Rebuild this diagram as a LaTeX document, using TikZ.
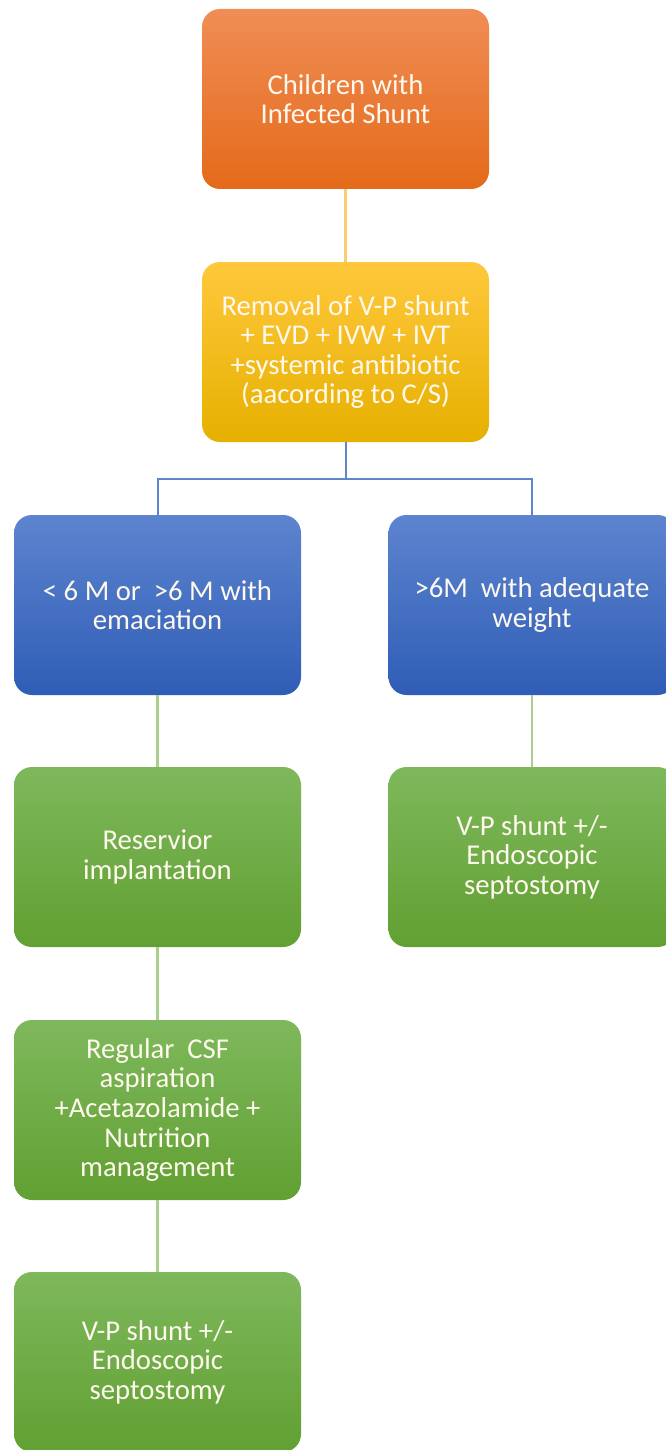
\documentclass[tikz,border=0pt]{standalone}
\usepackage{fontspec}
\setmainfont{Carlito}
\definecolor{orT}{HTML}{F08D55}
\definecolor{orB}{HTML}{E46A1A}
\definecolor{yeT}{HTML}{FFC83C}
\definecolor{yeM}{HTML}{FFC000}
\definecolor{yeB}{HTML}{E6B000}
\definecolor{blT}{HTML}{5D84CF}
\definecolor{blB}{HTML}{2F5DB6}
\definecolor{grT}{HTML}{7EB85C}
\definecolor{grB}{HTML}{61A032}
\definecolor{lnOr}{HTML}{F9CD70}
\definecolor{lnBl}{HTML}{5F86C8}
\definecolor{lnGr}{HTML}{A8CF8C}
\definecolor{txt}{HTML}{FFF8EE}
\tikzset{
  box/.style={rounded corners=18pt, minimum width=287pt, minimum height=180pt,
    align=center, text=txt, inner sep=0pt,
    font=\fontsize{28.7}{29.6}\selectfont},
  orbox/.style={box, top color=orT, bottom color=orB},
  yebox/.style={box, top color=yeT, middle color=yeM, bottom color=yeB},
  blbox/.style={box, top color=blT, bottom color=blB},
  grbox/.style={box, top color=grT, bottom color=grB},
  lnor/.style={draw=lnOr, line width=2.4pt},
  lnbl/.style={draw=lnBl, line width=2pt},
  lngr/.style={draw=lnGr, line width=2.6pt}
}
\begin{document}
\begin{tikzpicture}[x=1pt,y=-1pt]
\useasboundingbox (0,0) rectangle (666,1450);
\clip (0,0) rectangle (666,1450);
\fill[white] (0,0) rectangle (666,1450);
\node[orbox] (a) at (345.5,99) {Children with\\Infected Shunt};
\node[yebox] (b) at (345.5,352) {Removal of V-P shunt\\+ EVD + IVW + IVT\\+systemic antibiotic\\(aacording to C/S)};
\node[blbox] (c) at (157.5,605) {< 6 M or\ \ >6 M with\\emaciation};
\node[blbox] (d) at (532,605) {>6M\ \ with adequate\\weight};
\node[grbox] (e) at (157.5,857) {Reservior\\implantation};
\node[grbox] (f) at (532,857) {V-P shunt +/-\\Endoscopic\\septostomy};
\node[grbox] (g) at (157.5,1110) {Regular\ \ CSF\\aspiration\\+Acetazolamide +\\Nutrition\\management};
\node[grbox] (h) at (157.5,1362) {V-P shunt +/-\\Endoscopic\\septostomy};
\coordinate (j) at (345.5,479);
\draw[lnor] (a.south) -- (b.north);
\draw[lnbl] (b.south) -- (j);
\draw[lnbl] (j) -| (c.north);
\draw[lnbl] (j) -| (d.north);
\draw[lngr] (c.south) -- (e.north);
\draw[lngr] (d.south) -- (f.north);
\draw[lngr] (e.south) -- (g.north);
\draw[lngr] (g.south) -- (h.north);
\end{tikzpicture}
\end{document}
